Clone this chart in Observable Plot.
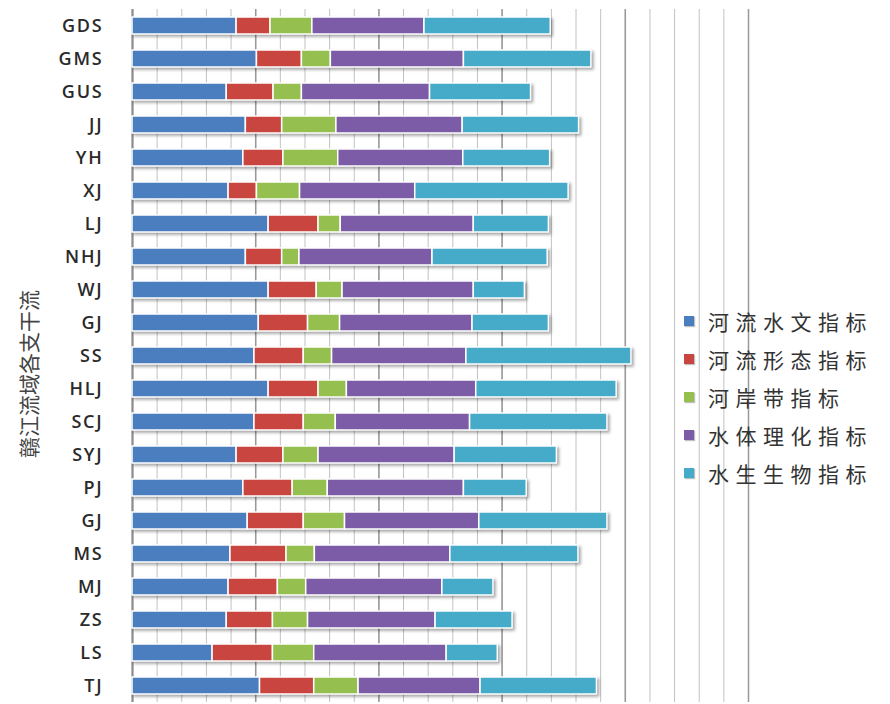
<!DOCTYPE html>
<html>
<head>
<meta charset="utf-8">
<script src="https://cdn.jsdelivr.net/npm/d3@7"></script>
<script src="https://cdn.jsdelivr.net/npm/@observablehq/plot@0.6"></script>
<style>
  html, body { margin: 0; padding: 0; background: #fff; }
  #wrap { position: relative; width: 890px; height: 704px; overflow: hidden; }
  #wrap svg g[aria-label="y-axis tick label"] text { letter-spacing: 1.8px; }
  .legend { position: absolute; left: 684px; top: 302px; font-family: "Noto Sans CJK SC", sans-serif; }
  .legend .item { display: flex; align-items: center; height: 38px; }
  .legend .sw { width: 10px; height: 10px; margin-right: 14px; box-shadow: 1px 1px 1px rgba(0,0,0,0.25); }
  .legend .lab { font-size: 21px; letter-spacing: 6.5px; color: #333; }
</style>
</head>
<body>
<div id="wrap"></div>
<script>
// Tributaries of the Gan River basin, top to bottom
const rivers = ["GDS","GMS","GUS","JJ","YH","XJ","LJ","NHJ","WJ","GJ","SS","HLJ","SCJ","SYJ","PJ","GJ","MS","MJ","ZS","LS","TJ"];

// Indicator groups (stack order, left to right)
const seriesNames = ["河流水文指标","河流形态指标","河岸带指标","水体理化指标","水生生物指标"];
const seriesColors = ["#4a7ebf","#c8463f","#95c04f","#7d5ca7","#46abc8"];

// Scores per tributary for each indicator group
const hydrology  = [0.169,0.202,0.153,0.184,0.180,0.156,0.221,0.184,0.221,0.205,0.198,0.221,0.198,0.169,0.180,0.187,0.159,0.156,0.153,0.130,0.207];
const morphology = [0.055,0.073,0.076,0.059,0.065,0.046,0.081,0.059,0.078,0.080,0.080,0.081,0.080,0.076,0.080,0.091,0.091,0.080,0.075,0.098,0.088];
const riparian   = [0.068,0.047,0.046,0.088,0.089,0.070,0.036,0.028,0.042,0.052,0.046,0.046,0.052,0.057,0.057,0.067,0.046,0.046,0.057,0.067,0.072];
const physchem   = [0.182,0.216,0.208,0.205,0.203,0.187,0.216,0.216,0.213,0.215,0.218,0.210,0.218,0.221,0.221,0.218,0.220,0.221,0.207,0.215,0.198];
const biota      = [0.205,0.207,0.164,0.189,0.141,0.249,0.122,0.187,0.083,0.124,0.268,0.228,0.223,0.166,0.102,0.208,0.208,0.083,0.125,0.083,0.189];

const yTitle = "赣江流域各支干流";

const seriesValues = [hydrology, morphology, riparian, physchem, biota];
const table = rivers.flatMap((river, i) =>
  seriesNames.map((name, k) => ({idx: i, river, series: name, value: seriesValues[k][i]}))
);

// Vertical grid: fine lines plus heavier major lines
const minorTicks = d3.range(0, 1.0001, 0.04);
const majorTicks = d3.range(0, 1.0001, 0.2);

const chart = Plot.plot({
  width: 890,
  height: 704,
  marginLeft: 132,
  marginRight: 142,
  marginTop: 9,
  marginBottom: 2,
  style: {fontFamily: "'Open Sans', sans-serif", background: "white"},
  x: {domain: [0, 1], axis: null},
  y: {type: "band", domain: d3.range(rivers.length), paddingInner: 0.48, paddingOuter: 0.24, axis: null},
  color: {domain: seriesNames, range: seriesColors},
  marks: [
    Plot.ruleX(minorTicks, {stroke: "#c2c2c2", strokeWidth: 1}),
    Plot.ruleX(majorTicks, {stroke: "#999", strokeWidth: 1.5}),
    Plot.ruleX([0], {stroke: "#8c8c8c", strokeWidth: 2}),
    Plot.barX(table, {x: "value", y: "idx", fill: "series", stroke: "white", strokeWidth: 1.5}),
    Plot.axisY({tickSize: 0, tickPadding: 29, tickFormat: i => rivers[i], fontSize: 18, fontWeight: 600, fill: "#2a2a2a", label: null}),
    Plot.text([yTitle], {
      frameAnchor: "left", dx: -102, dy: 18, rotate: -90,
      textAnchor: "middle", lineAnchor: "middle",
      fontSize: 21, fill: "#444", fontFamily: "'Noto Sans CJK SC', serif"
    })
  ]
});

// soft drop shadow under the bars
const barGroup = chart.querySelector('g[aria-label="bar"]');
if (barGroup) barGroup.style.filter = "drop-shadow(2px 2px 1.5px rgba(0,0,0,0.35))";

const wrap = document.getElementById("wrap");
wrap.appendChild(chart);

// legend built from the plot's color scale
const color = chart.scale("color");
const legend = d3.select(wrap).append("div").attr("class", "legend");
const items = legend.selectAll(".item").data(color.domain).join("div").attr("class", "item");
items.append("span").attr("class", "sw").style("background", (d, i) => color.range[i]);
items.append("span").attr("class", "lab").text(d => d);
</script>
</body>
</html>
